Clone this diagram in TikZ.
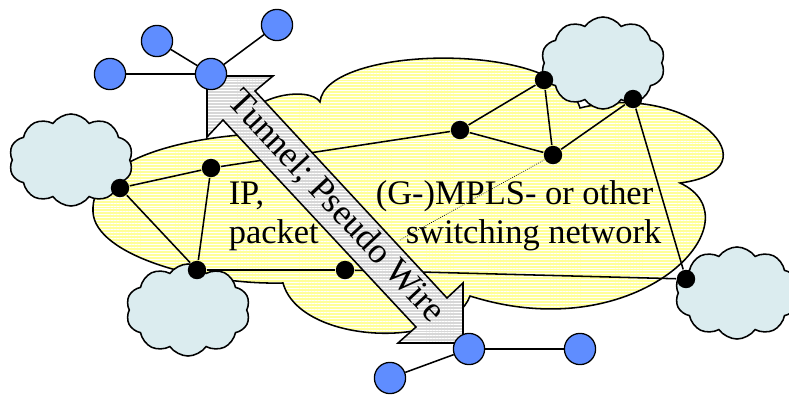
\documentclass[tikz,border=0pt]{standalone}
\usepackage{fontspec}
\setmainfont{Liberation Serif}
\usetikzlibrary{shapes.symbols,patterns.meta}

\definecolor{hostblue}{RGB}{95,141,255}
\definecolor{cloudblue}{RGB}{219,236,239}
\definecolor{netyellow}{RGB}{255,255,153}
\definecolor{tunnelgray}{RGB}{215,215,215}

\begin{document}
\begin{tikzpicture}[x=0.025cm,y=-0.025cm,line width=1.1pt]
	\tikzstyle{host}=[circle,draw=black,line width=0.9pt,fill=hostblue,minimum size=0.78cm,inner sep=0pt]
	\tikzstyle{router}=[circle,fill=black,minimum size=0.46cm,inner sep=0pt]
	\tikzstyle{access net}=[cloud,cloud puffs=10,cloud puff arc=110,aspect=1.5,draw=black,fill=cloudblue,minimum width=3.1cm,minimum height=2.3cm,inner sep=0pt]
	\tikzstyle{striped}=[pattern={Lines[angle=0,distance=2.1pt,line width=0.7pt]},pattern color=white]
	\tikzstyle{nettext}=[anchor=base west,inner sep=0pt,font=\fontsize{24.5}{29}\selectfont]
	
	\useasboundingbox (0,0) rectangle (789,395);
	
	% Draw the core network cloud
	\draw[preaction={fill=netyellow},striped] (283,283)
	.. controls (200,285) and (95,255) .. (93,212)
	.. controls (90,160) and (180,140) .. (240,135)
	.. controls (240,95) and (310,85) .. (320,102)
	.. controls (325,45) and (560,40) .. (580,108)
	.. controls (690,80) and (780,170) .. (680,183)
	.. controls (760,220) and (640,350) .. (470,296)
	.. controls (450,350) and (300,345) .. (283,283) -- cycle;
	
	% Draw the access network clouds
	\node[access net] (C-L) at (71,160) {};
	\node[access net] (C-B) at (188,310) {};
	\node[access net] (C-T) at (603,63) {};
	\node[access net] (C-R) at (737,293) {};
	
	% Draw the routers
	\foreach \name/\x/\y in {A/120/188,B/211/168,C/197/270,D/345/270,E/460/130,F/544/80,G/553/155,H/633/99,I/686/279}
	\node[router] (R-\name) at (\x,\y) {};
	
	% Connect the routers
	\foreach \source/\dest in {A/B,A/C,B/C,B/E,C/D,D/I,E/F,E/G,F/G,G/H,H/I}
	\draw (R-\source) -- (R-\dest);
	
	% Annotate the network
	\node[nettext] (ip) at (228,204) {IP,};
	\node[nettext] (mpls) at (375,204) {(G-)MPLS- or other};
	\node[nettext] (packet) at (228,243) {packet};
	\node[nettext] (switching) at (405,243) {switching network};
	
	\coordinate (dot-end) at (400,240);
	\draw[densely dotted,line width=0.5pt] (R-G) -- (dot-end);
	
	% Draw the tunnel arrow
	\draw[preaction={fill=tunnelgray},striped] (207,76) -- (273,76) -- (255,91) -- (447,298) -- (463,283) -- (463,343) -- (398,343) -- (416,327) -- (223,120) -- (207,137) -- cycle;
	\node[rotate=-47.1,inner sep=0pt,font=\fontsize{25.5}{30}\selectfont] (tunnel) at (336,207) {Tunnel; Pseudo Wire};
	
	% Draw the hosts
	\foreach \name/\x/\y in {T/211/74,T-1/110/74,T-2/157/41,T-3/277/25,B/469/349,B-1/580/349,B-2/390/378}
	\node[host] (H-\name) at (\x,\y) {};
	
	\foreach \dest in {T-1,T-2,T-3}
	\draw (H-T) -- (H-\dest);
	\foreach \dest in {B-1,B-2}
	\draw (H-B) -- (H-\dest);
	
\end{tikzpicture}
\end{document}
